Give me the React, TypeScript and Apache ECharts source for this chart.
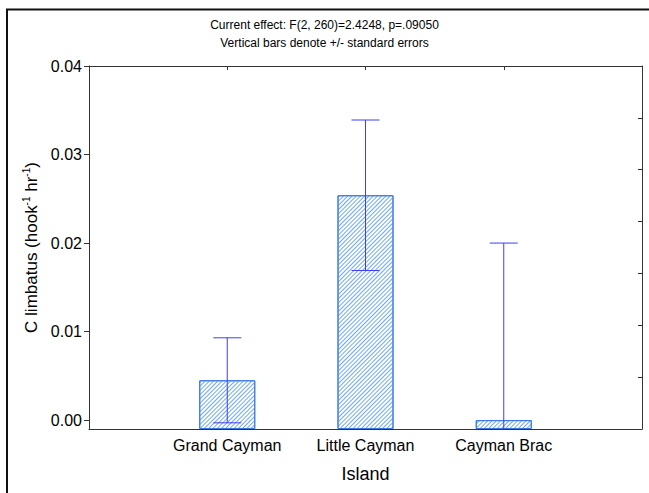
import React, { useEffect, useRef } from "react";
import * as echarts from "echarts";

const categories = ["Grand Cayman", "Little Cayman", "Cayman Brac"];
const means = [0.0045, 0.0254, 0.0];
const stdErrors = [0.0048, 0.0085, 0.02];
const yTicks = [0, 0.01, 0.02, 0.03, 0.04];
const titleLines = [
  "Current effect: F(2, 260)=2.4248, p=.09050",
  "Vertical bars denote +/- standard errors",
];

const Y_MIN = -0.001;
const Y_MAX = 0.04;
const FONT = "'Liberation Sans', Arial, sans-serif";

export default function App() {
  const ref = useRef<HTMLDivElement>(null);
  useEffect(() => {
    if (!ref.current) return;
    const chart = echarts.init(ref.current, null, { renderer: "svg" });
    // padded category slots: an empty slot at each end, bars on the middle ones
    const axisCats = ["", ...categories, ""];
    const pad = (arr: any[]) => ["-", ...arr, "-"];
    const errData = categories.map((_, i) => [
      i + 1,
      means[i] - stdErrors[i],
      means[i] + stdErrors[i],
    ]);
    const option: any = {
      animation: false,
      backgroundColor: "#fff",
      textStyle: { fontFamily: FONT },
      title: {
        text: titleLines.join("\n"),
        left: "center",
        top: 16,
        padding: 0,
        textStyle: { fontSize: 12, fontWeight: "normal", color: "#000", lineHeight: 18, fontFamily: FONT },
      },
      graphic: [
        {
          type: "rect",
          shape: { x: 7, y: 9.5, width: 700, height: 600 },
          style: { fill: "none", stroke: "#111", lineWidth: 2 },
          silent: true,
        },
      ],
      grid: { left: 89, right: 7, top: 66, bottom: 64, containLabel: false },
      xAxis: [
        {
          type: "category",
          data: axisCats,
          boundaryGap: false,
          axisLine: { show: true, onZero: false, lineStyle: { color: "#333", width: 1 } },
          axisTick: { show: true, inside: true, length: 4, alignWithLabel: true, lineStyle: { color: "#333" } },
          splitLine: { show: false },
          axisLabel: {
            interval: 0,
            margin: 8,
            fontSize: 16,
            color: "#000",
            fontFamily: FONT,
          },
          name: "Island",
          nameLocation: "middle",
          nameGap: 36,
          nameTextStyle: { fontSize: 18, color: "#000", fontFamily: FONT },
        },
        {
          type: "value",
          position: "top",
          min: 0,
          max: 4,
          interval: 1,
          axisLine: { show: true, onZero: false, lineStyle: { color: "#333", width: 1 } },
          axisTick: { show: true, inside: true, length: 4, lineStyle: { color: "#333" } },
          splitLine: { show: false },
          axisLabel: { show: false },
        },
      ],
      yAxis: [
        {
          type: "value",
          min: Y_MIN,
          max: Y_MAX,
          axisLine: { show: true, onZero: false, lineStyle: { color: "#333", width: 1 } },
          axisTick: { show: true, inside: false, length: 5, customValues: yTicks, lineStyle: { color: "#333" } },
          splitLine: { show: false },
          axisLabel: {
            customValues: yTicks,
            margin: 7,
            fontSize: 16,
            color: "#000",
            fontFamily: FONT,
            formatter: (v: number) => v.toFixed(2),
          },
          name: "{a|C limbatus (hook}{s|-1}{a| hr}{s|-1}{a|)}",
          nameLocation: "middle",
          nameGap: 47,
          nameTextStyle: {
            color: "#000",
            fontFamily: FONT,
            rich: {
              a: { fontSize: 17, lineHeight: 20, color: "#000", fontFamily: FONT },
              s: { fontSize: 10, lineHeight: 12, verticalAlign: "top", color: "#000", fontFamily: FONT },
            },
          },
        },
        {
          type: "value",
          position: "right",
          min: 0,
          max: 7,
          interval: 1,
          axisLine: { show: true, onZero: false, lineStyle: { color: "#333", width: 1 } },
          axisTick: { show: true, inside: true, length: 4, lineStyle: { color: "#333" } },
          splitLine: { show: false },
          axisLabel: { show: false },
        },
      ],
      series: [
        {
          type: "bar",
          name: "base",
          stack: "s",
          stackStrategy: "all",
          barWidth: 56,
          xAxisIndex: 0,
          yAxisIndex: 0,
          itemStyle: { color: "rgba(0,0,0,0)", borderWidth: 0 },
          data: pad(categories.map(() => Y_MIN)),
          silent: true,
        },
        {
          type: "bar",
          name: "mean",
          stack: "s",
          stackStrategy: "all",
          barWidth: 56,
          xAxisIndex: 0,
          yAxisIndex: 0,
          itemStyle: {
            color: "#fff",
            borderColor: "#3a78e6",
            borderWidth: 1,
            decal: {
              symbol: "rect",
              symbolSize: 1,
              dashArrayX: [1, 0],
              dashArrayY: [1, 2],
              rotation: -Math.PI / 4,
              color: "#6fa8f5",
            },
          },
          data: pad(means.map((m) => m - Y_MIN)),
        },
        {
          type: "custom",
          name: "se",
          xAxisIndex: 0,
          yAxisIndex: 0,
          data: errData,
          renderItem: (params: any, api: any) => {
            const x = api.value(0);
            const lo = api.value(1);
            const hi = api.value(2);
            const loC = Math.max(lo, Y_MIN);
            const hiC = Math.min(hi, Y_MAX);
            const p1 = api.coord([x, loC]);
            const p2 = api.coord([x, hiC]);
            const half = 14;
            const style = { stroke: "#3c3cff", lineWidth: 1 };
            const children: any[] = [
              { type: "line", shape: { x1: p1[0], y1: p1[1], x2: p2[0], y2: p2[1] }, style },
            ];
            if (hi <= Y_MAX)
              children.push({ type: "line", shape: { x1: p2[0] - half, y1: p2[1], x2: p2[0] + half, y2: p2[1] }, style });
            if (lo >= Y_MIN)
              children.push({ type: "line", shape: { x1: p1[0] - half, y1: p1[1], x2: p1[0] + half, y2: p1[1] }, style });
            return { type: "group", children };
          },
          z: 5,
        },
      ],
    };
    chart.setOption(option);
    return () => chart.dispose();
  }, []);
  return (
    <div
      ref={ref}
      style={{ position: "fixed", left: 0, top: 0, width: 649, height: 493 }}
    />
  );
}
